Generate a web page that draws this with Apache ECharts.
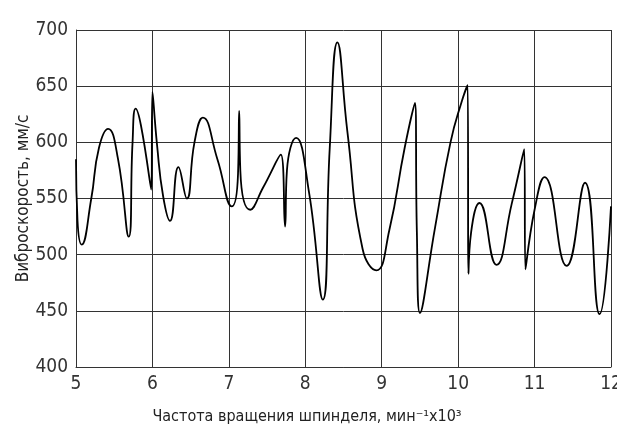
<!DOCTYPE html>
<html><head><meta charset="utf-8">
<script src="https://cdn.jsdelivr.net/npm/echarts@6/dist/echarts.min.js"></script>
<style>html,body{margin:0;padding:0;background:#fff}#c{width:617px;height:432px}</style>
</head><body><div id="c"></div>
<script>
var xValues = [5.0,5.02,5.075,5.2,5.3,5.42,5.55,5.69,5.74,5.78,5.85,5.985,6.0,6.06,6.14,6.23,6.34,6.45,6.55,6.66,6.85,7.04,7.12,7.135,7.15,7.28,7.45,7.68,7.735,7.76,7.88,8.05,8.23,8.32,8.42,8.55,8.75,8.93,9.1,9.3,9.435,9.46,9.5,9.7,9.9,10.05,10.125,10.135,10.17,10.28,10.5,10.7,10.865,10.88,11.0,11.13,11.42,11.66,11.85,12.0];
var vibration = [585,530,509,550,595,612,585,516,600,630,615,558,645,598,552,530,578,550,600,622,585,543,572,628,575,540,560,589,525,575,604,555,460,595,689,610,505,486,522,595,635,520,448,525,600,637,651,483,520,546,491,545,594,487,540,569,490,564,447,543];
var xTicks = [5,6,7,8,9,10,11,12];
var yTicks = [400,450,500,550,600,650,700];

var data = xValues.map(function(x,i){return [x, vibration[i]];});
var font = "'Liberation Sans Narrow','DejaVu Sans Condensed',sans-serif";
var chart = echarts.init(document.getElementById('c'));
chart.setOption({
  animation:false,
  grid:{left:76,right:6,top:30,bottom:65,outerBoundsMode:'none',containLabel:false},
  xAxis:{type:'value',min:5,max:12,interval:1,
    name:'Частота вращения шпинделя, мин⁻¹x10³',nameLocation:'middle',nameGap:42,nameMoveOverlap:false,
    nameTextStyle:{fontFamily:font,fontSize:16,color:'#222',padding:[0,73,0,0]},
    axisLine:{lineStyle:{color:'#333',width:1}},axisTick:{show:false},
    axisLabel:{fontFamily:font,fontSize:19,color:'#333',margin:8},
    splitLine:{show:true,lineStyle:{color:'#333',width:1}}},
  yAxis:{type:'value',min:400,max:700,interval:50,
    name:'Виброскорость, мм/с',nameLocation:'middle',nameGap:44,nameMoveOverlap:false,
    nameTextStyle:{fontFamily:font,fontSize:17,color:'#222'},
    axisLine:{show:true,lineStyle:{color:'#333',width:1}},axisTick:{show:false},
    axisLabel:{fontFamily:font,fontSize:19,color:'#333',margin:8},
    splitLine:{show:true,lineStyle:{color:'#333',width:1}}},
  series:[{type:'line',data:data,showSymbol:false,smooth:0.5,
    lineStyle:{color:'#000',width:1.8}}]
});
</script></body></html>
